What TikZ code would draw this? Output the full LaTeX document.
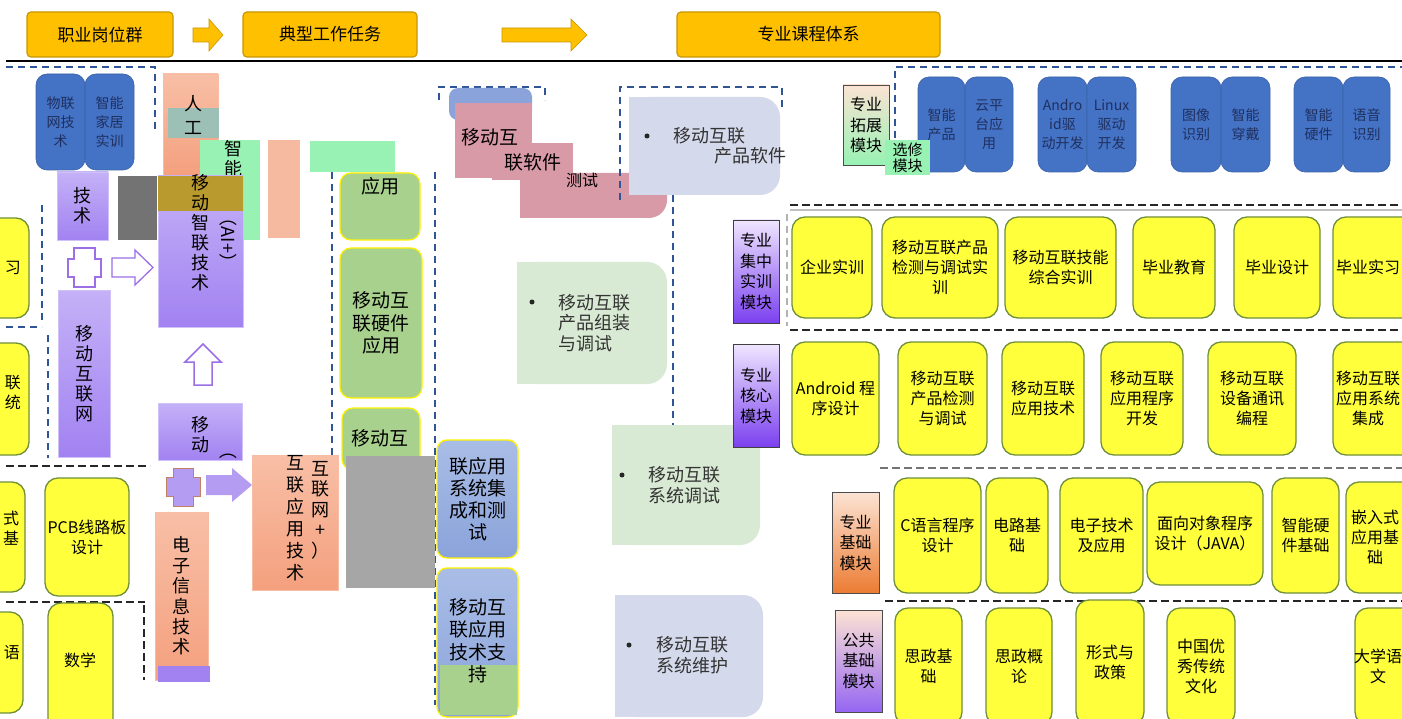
\documentclass[tikz,border=0pt]{standalone}
\usepackage{fontspec}
\setmainfont{Noto Sans CJK SC}
\newcommand\myfs[2]{\fontsize{#1}{#2}\selectfont}
\definecolor{gold}{HTML}{FFC000}
\definecolor{goldd}{HTML}{C99700}
\definecolor{tabblue}{HTML}{4472C4}
\definecolor{tabtxt}{HTML}{1F3060}
\definecolor{cy}{HTML}{FFFF3C}
\definecolor{cyd}{HTML}{6F8F3A}
\definecolor{purt}{HTML}{C4B1F7}
\definecolor{purb}{HTML}{A282F1}
\definecolor{orgt}{HTML}{F8BFA6}
\definecolor{orgb}{HTML}{F4A07E}
\definecolor{grn}{HTML}{A9D18E}
\definecolor{ltg}{HTML}{D9EAD4}
\definecolor{lav}{HTML}{D4D9EB}
\definecolor{pinkc}{HTML}{D99AA8}
\definecolor{appt}{HTML}{A9BDE6}
\definecolor{appb}{HTML}{8AA3DA}
\definecolor{mint}{HTML}{98F2B3}
\definecolor{tealc}{HTML}{9CBFB6}
\definecolor{olg}{HTML}{B99A2E}
\definecolor{modt}{HTML}{EFE6FF}
\definecolor{modb}{HTML}{7B40EF}
\definecolor{mot}{HTML}{FCE3D4}
\definecolor{mob}{HTML}{EC7C33}
\definecolor{dblue}{HTML}{2F5597}
\definecolor{salm}{HTML}{F6BAA1}
\definecolor{arrp}{HTML}{9C6FE6}
\definecolor{fillp}{HTML}{B39CF2}
\definecolor{greyblk}{HTML}{A6A6A6}
\definecolor{dgrey}{HTML}{737373}
% box by corners: name, style, x1, y1, x2, y2, text
\newcommand\bx[7]{\node[#2,anchor=north west,minimum width={(#5)-(#3)},minimum height={(#6)-(#4)}] (#1) at (#3,#4) {#7};}
% task box with rounded right corners
\newcommand\tbox[5]{\fill[#1,rounded corners=20pt] (#2,#3) rectangle (#4,#5); \fill[#1] (#2,#3) rectangle ({(#2+#4)/2},#5);}
% right arrow: style, x1, x2, ymid, shaft half, head half, head length
\newcommand\rarr[7]{\path[#1] (#2,{#4-#5}) -- ({#3-#7},{#4-#5}) -- ({#3-#7},{#4-#6}) -- (#3,#4) -- ({#3-#7},{#4+#6}) -- ({#3-#7},{#4+#5}) -- (#2,{#4+#5}) -- cycle;}
\begin{document}
\begin{tikzpicture}[x=1pt,y=-1pt,
  every node/.style={outer sep=0pt,inner sep=1pt},
  hdr/.style={fill=gold,draw=goldd,line width=1.2pt,rounded corners=4pt,font=\myfs{17}{20}},
  course/.style={fill=cy,draw=cyd,line width=1.3pt,rounded corners=13pt,align=center,font=\myfs{16}{20}},
  ctxt/.style={align=center,font=\myfs{16}{20}},
  tabb/.style={fill=tabblue,draw=tabblue!85!black,line width=0.6pt,rounded corners=11pt,align=center,text=tabtxt,font=\myfs{14}{19}},
  purp/.style={top color=purt,bottom color=purb,draw=purt!80!white,line width=0.8pt,align=center,font=\myfs{18}{20}},
  orng/.style={top color=orgt,bottom color=orgb,draw=orgb!70!white,line width=0.8pt,align=center,font=\myfs{18}{20.4}},
  grnb/.style={fill=grn,draw=yellow,line width=1.2pt,rounded corners=11pt,align=center,font=\myfs{19}{22.5}},
  appbx/.style={top color=appt,bottom color=appb,draw=yellow,line width=1.4pt,rounded corners=10pt,align=center,font=\myfs{19}{22}},
  modp/.style={top color=modt,bottom color=modb,draw=black!75,line width=0.8pt,align=center,font=\myfs{16}{20.5}},
  modo/.style={top color=mot,bottom color=mob,draw=black!70,line width=0.8pt,align=center,font=\myfs{16}{20.5}},
  dsh/.style={draw=dblue,line width=2pt,dash pattern=on 7pt off 5pt},
  dshk/.style={draw=black!85,line width=2.2pt,dash pattern=on 8pt off 4pt},
  big/.style={align=center,font=\myfs{18}{20}},
  tasktxt/.style={anchor=west,align=left,font=\myfs{18}{20.5},text=black!80},
  bul/.style={circle,fill=black!85,minimum size=5pt,inner sep=0pt}
]
\useasboundingbox[fill=white] (0,0) rectangle (1402,719);

% ---------- header ----------
\bx{h1}{hdr}{27}{12}{173}{57}{职业岗位群}
\bx{h2}{hdr}{243}{12}{417}{57}{典型工作任务}
\bx{h3}{hdr}{677}{12}{940}{57}{专业课程体系}
\rarr{fill=gold,draw=goldd,line width=0.6pt}{193}{223}{35}{7}{16}{14}
\rarr{fill=gold,draw=goldd,line width=0.6pt}{502}{587}{35}{7}{16}{16}
\draw[line width=2.2pt] (6,61) -- (1402,61);

% ---------- left column (jobs) ----------
\draw[dsh] (6,67) -- (155,67) -- (155,130);
\draw[dsh] (42,205) -- (42,322);
\draw[dsh] (6,327) -- (42,327);
\draw[dsh] (48,335) -- (48,458);
\draw[dshk] (6,466) -- (150,466);
\draw[dshk] (6,602) -- (145,602);
\draw[dshk] (144,605) -- (144,680);

\bx{jb1}{tabb}{36}{74}{85}{170}{物联\\网技\\术}
\bx{jb2}{tabb}{85}{74}{134}{170}{智能\\家居\\实训}
\fill[dgrey] (118,176) rectangle (157,240);

\bx{p1}{purp}{57}{172}{108}{240}{技\\术}
\draw[arrp,fill=white,line width=1.5pt] (74,248) -- (95,248) -- (95,259) -- (101,259) -- (101,277) -- (95,277) -- (95,287) -- (74,287) -- (74,277) -- (68,277) -- (68,259) -- (74,259) -- cycle;
\rarr{draw=arrp,fill=white,line width=1.3pt}{112}{153}{267.5}{9.5}{17.5}{18}
\bx{p2}{purp}{58}{290}{110}{457}{移\\动\\互\\联\\网}

\bx{ai}{orng}{163}{74}{218}{175}{}
\fill[tealc] (168,108) rectangle (219,138);
\node[big,font=\myfs{18}{24}] (ait) at (193,115) {人\\工};
\fill[mint] (200,140) rectangle (260,240);
\node[big] (znt) at (233,159) {智\\能};
\fill[salm] (268,140) rectangle (300,238);
\fill[mint] (310,141) rectangle (395,172);

\bx{p3}{purp}{158}{176}{243}{327}{}
\fill[olg] (158,176) rectangle (243,211);
\node[big] (p3t) at (200,233) {移\\动\\智\\联\\技\\术};
\node[big,rotate=-90] (p3a) at (228,240) {（AI+）};

\path[draw=arrp,fill=white,line width=1.5pt] (185,362) -- (203,344) -- (221,362) -- (212,362) -- (212,385) -- (194,385) -- (194,362) -- cycle;

\bx{p4}{purp}{158}{403}{242}{460}{}
\node[big] (p4t) at (200,435) {移\\动};
\node[big,rotate=-90] (p4a) at (228,450) {（};

\draw[fill=fillp,draw=orgb!80!black,line width=1pt] (173,468) -- (193,468) -- (193,477) -- (200,477) -- (200,496) -- (193,496) -- (193,506) -- (173,506) -- (173,496) -- (166,496) -- (166,477) -- (173,477) -- cycle;
\rarr{fill=fillp}{206}{252}{485}{10}{17}{20}

\bx{o1}{orng}{155}{512}{208}{680}{电\\子\\信\\息\\技\\术}
\fill[purb] (158,666) rectangle (210,682);
\bx{o2}{orng}{252}{455}{338}{590}{}
\node[big,font=\myfs{18}{22}] (o2a) at (295,518) {互\\联\\应\\用\\技\\术};
\node[big,font=\myfs{18}{20.5}] (o2b) at (320,510) {互\\联\\网\\+\\）};

% partial courses at the left edge
\bx{l1}{course}{-40}{218}{29}{318}{}
\node[ctxt] (l1t) at (13,268) {习};
\bx{l2}{course}{-40}{343}{29}{455}{}
\node[ctxt] (l2t) at (13,393) {联\\统};
\bx{l3}{course}{-40}{482}{25}{592}{}
\node[ctxt] (l3t) at (11,528) {式\\基};
\bx{l4}{course}{-40}{612}{23}{713}{}
\node[ctxt] (l4t) at (12,653) {语};
\bx{pcb}{course}{45}{478}{129}{596}{PCB线路板\\设计}
\bx{math}{course}{48}{603}{113}{740}{}
\node[ctxt] (matht) at (80,660) {数学};

% ---------- typical tasks ----------
\draw[dsh] (332,172) -- (332,458);
\draw[dsh] (435,172) -- (435,705);
\draw[dsh] (673,195) -- (673,460);

\bx{g1}{grnb}{340}{173}{420}{240}{}
\node[big,font=\myfs{19}{22}] (g1t) at (380,186) {应用};
\bx{g2}{grnb}{340}{248}{422}{398}{移动互\\联硬件\\应用}
\bx{g3}{grnb}{342}{408}{420}{470}{}
\node[big,font=\myfs{19}{22}] (g3t) at (380,438) {移动互};
\fill[greyblk] (346,456) rectangle (435,588);

\draw[dsh] (439,100) -- (439,87) -- (545,87) -- (545,100);
\bx{sb}{fill=appb,rounded corners=9pt}{449}{88}{532}{120}{}
\fill[pinkc] (455,103) rectangle (532,178);
\fill[pinkc] (492,143) rectangle (573,180);
\fill[pinkc,rounded corners=18pt] (520,173) rectangle (667,218);
\fill[pinkc] (520,173) rectangle (640,218);
\fill[pinkc] (520,173) rectangle (667,195);
\node[big,font=\myfs{19}{22}] (pk1) at (490,137) {移动互};
\node[big,font=\myfs{19}{22}] (pk2) at (533,162) {联软件};
\node[big,font=\myfs{16}{20}] (pk3) at (582,180) {测试};

\bx{ap1}{appbx}{437}{440}{518}{558}{联应用\\系统集\\成和测\\试}
\bx{ap2}{appbx}{437}{568}{518}{717}{}
\fill[grn] (440,665) rectangle (517,715);
\node[big,font=\myfs{19}{22.5}] (ap2t) at (478,641) {移动互\\联应用\\技术支\\持};

\draw[dsh] (620,200) -- (620,87) -- (782,87) -- (782,110);
\tbox{lav}{629}{97}{780}{195}
\node[bul] (b1) at (647,136) {};
\node[tasktxt] (t1a) at (672,136) {移动互联};
\node[tasktxt] (t1b) at (713,156) {产品软件};

\tbox{ltg}{517}{262}{667}{384}
\node[bul] (b3) at (532,302) {};
\node[tasktxt] (t3) at (557,323) {移动互联\\产品组装\\与调试};

\tbox{ltg}{612}{425}{760}{545}
\node[bul] (b4) at (622,475) {};
\node[tasktxt] (t4) at (647,485) {移动互联\\系统调试};

\tbox{lav}{615}{595}{763}{717}
\node[bul] (b5) at (629,645) {};
\node[tasktxt] (t5) at (655,655) {移动互联\\系统维护};

% ---------- course system ----------
\draw[dsh] (895,150) -- (895,67) -- (1402,67);
\bx{e1}{tabb}{918}{77}{965}{172}{智能\\产品}
\bx{e2}{tabb}{965}{77}{1013}{172}{云平\\台应\\用}
\bx{e3}{tabb}{1038}{77}{1087}{172}{Andro\\id驱\\动开发}
\bx{e4}{tabb}{1087}{77}{1136}{172}{Linux\\驱动\\开发}
\bx{e5}{tabb}{1171}{77}{1221}{172}{图像\\识别}
\bx{e6}{tabb}{1221}{77}{1270}{172}{智能\\穿戴}
\bx{e7}{tabb}{1294}{77}{1343}{172}{智能\\硬件}
\bx{e8}{tabb}{1343}{77}{1390}{172}{语音\\识别}

% ---------- modules ----------
\bx{mext}{modo,top color=mot,bottom color=mint}{843}{85}{889}{165}{专业\\拓展\\模块}
\bx{mopt}{fill=mint,align=center,font=\myfs{15}{16}}{885}{140}{930}{175}{选修\\模块}
\bx{mconc}{modp}{733}{220}{779}{323}{专业\\集中\\实训\\模块}
\bx{mcore}{modp}{733}{344}{779}{447}{专业\\核心\\模块}
\bx{mbase}{modo}{832}{492}{879}{593}{专业\\基础\\模块}
\bx{mpub}{modo,bottom color=modb!80}{835}{610}{882}{712}{公共\\基础\\模块}

\draw[dshk] (790,205) -- (1402,205);
\draw[black!25,line width=2.5pt] (790,210) -- (1402,210);
\draw[dshk] (790,330) -- (1402,330);
\draw[dshk,black!55] (880,468) -- (1402,468);
\draw[dshk] (885,601) -- (1402,601);
\draw[dsh,black!30] (787,214) -- (787,326);

\bx{c21}{course}{792}{217}{872}{318}{企业实训}
\bx{c22}{course}{882}{217}{998}{318}{移动互联产品\\检测与调试实\\训}
\bx{c23}{course}{1005}{217}{1116}{318}{移动互联技能\\综合实训}
\bx{c24}{course}{1133}{217}{1215}{318}{毕业教育}
\bx{c25}{course}{1234}{217}{1320}{318}{毕业设计}
\bx{c26}{course}{1333}{217}{1420}{318}{}
\node[ctxt] (c26t) at (1368,267) {毕业实习};

\bx{c31}{course}{792}{342}{879}{455}{Android 程\\序设计}
\bx{c32}{course}{898}{342}{987}{455}{移动互联\\产品检测\\与调试}
\bx{c33}{course}{1002}{342}{1084}{455}{移动互联\\应用技术}
\bx{c34}{course}{1101}{342}{1183}{455}{移动互联\\应用程序\\开发}
\bx{c35}{course}{1208}{342}{1296}{455}{移动互联\\设备通讯\\编程}
\bx{c36}{course}{1333}{342}{1420}{455}{}
\node[ctxt] (c36t) at (1368,398) {移动互联\\应用系统\\集成};

\bx{c41}{course}{894}{478}{981}{593}{C语言程序\\设计}
\bx{c42}{course}{986}{478}{1048}{593}{电路基\\础}
\bx{c43}{course}{1060}{478}{1143}{593}{电子技术\\及应用}
\bx{c44}{course}{1147}{482}{1263}{585}{面向对象程序\\设计（JAVA）}
\bx{c45}{course}{1272}{478}{1339}{593}{智能硬\\件基础}
\bx{c46}{course}{1346}{482}{1420}{593}{}
\node[ctxt] (c46t) at (1375,537) {嵌入式\\应用基\\础};

\bx{c51}{course}{895}{608}{962}{725}{思政基\\础}
\bx{c52}{course}{986}{608}{1052}{725}{思政概\\论}
\bx{c53}{course}{1076}{600}{1144}{725}{形式与\\政策}
\bx{c54}{course}{1167}{608}{1235}{725}{中国优\\秀传统\\文化}
\bx{c55}{course}{1355}{608}{1430}{725}{}
\node[ctxt] (c55t) at (1378,666) {大学语\\文};
\end{tikzpicture}
\end{document}
